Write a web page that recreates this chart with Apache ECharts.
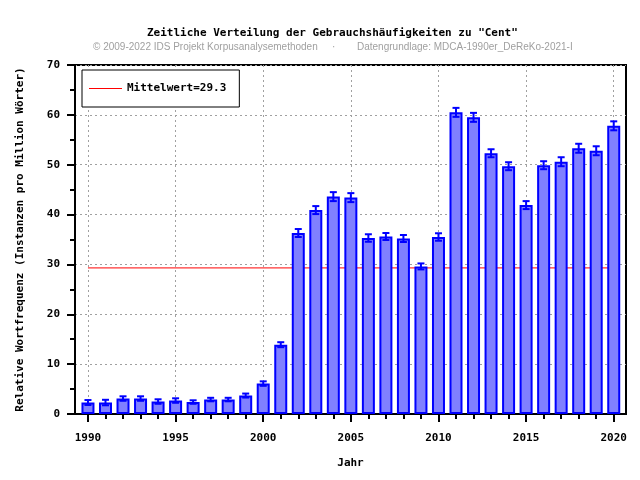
<!DOCTYPE html>
<html><head><meta charset="utf-8">
<script src="https://cdn.jsdelivr.net/npm/echarts@6/dist/echarts.min.js"></script>
<style>html,body{margin:0;padding:0;background:#fff}#c{width:640px;height:480px}</style>
</head><body><div id="c"></div>
<script>
const years = [1990,1991,1992,1993,1994,1995,1996,1997,1998,1999,2000,2001,2002,2003,2004,2005,2006,2007,2008,2009,2010,2011,2012,2013,2014,2015,2016,2017,2018,2019,2020];
const values = [2.3,2.3,3.1,3.1,2.5,2.7,2.4,2.9,2.9,3.7,6.1,13.9,36.3,40.9,43.6,43.4,35.3,35.6,35.2,29.6,35.5,60.5,59.5,52.3,49.7,41.9,49.9,50.6,53.3,52.8,57.8];
const errors = [0.5,0.55,0.45,0.45,0.45,0.45,0.35,0.35,0.35,0.4,0.45,0.5,0.8,0.8,0.9,0.9,0.75,0.7,0.7,0.6,0.75,0.9,0.9,0.8,0.8,0.8,0.8,0.9,0.9,0.9,0.9];
const meanValue = 29.3;
const majorYearTicks = [1990,1995,2000,2005,2010,2015,2020];
const titleText = 'Zeitliche Verteilung der Gebrauchshäufigkeiten zu "Cent"';
const creditText = '© 2009-2022 IDS Projekt Korpusanalysemethoden';
const sourceText = 'Datengrundlage: MDCA-1990er_DeReKo-2021-I';
const yName = 'Relative Wortfrequenz (Instanzen pro Million Wörter)';
const xName = 'Jahr';
const legendName = 'Mittelwert=' + meanValue.toFixed(1);

const mono = 'DejaVu Sans Mono';
const chart = echarts.init(document.getElementById('c'));
const xMin = 1989.26, xMax = 2020.7;
const subStyle = {fontFamily: 'Liberation Sans', fontWeight: 'normal', fontSize: 10, color: '#a0a0a0'};

chart.setOption({
  animation: false,
  backgroundColor: '#fff',
  title: [
    {text: titleText, left: 147, top: 28, padding: 0,
     textStyle: {fontFamily: mono, fontWeight: 'bold', fontSize: 11, color: '#000'}},
    {text: creditText, left: 93, top: 42, padding: 0, textStyle: subStyle},
    {text: '·', left: 332, top: 42, padding: 0, textStyle: subStyle},
    {text: sourceText, left: 357, top: 42, padding: 0, textStyle: subStyle}
  ],
  legend: {
    left: 82, top: 70, padding: [13, 13, 13, 7],
    backgroundColor: '#fff', borderColor: '#000', borderWidth: 1, borderRadius: 0,
    itemWidth: 33, itemHeight: 12,
    data: [{name: legendName, icon: 'path://M0,0H33V1H0Z'}],
    textStyle: {fontFamily: mono, fontWeight: 'bold', fontSize: 11, color: '#000'}
  },
  grid: {left: 75, right: 14, top: 65, bottom: 66, show: true, borderColor: '#000', borderWidth: 2, backgroundColor: 'transparent'},
  xAxis: [
    {type: 'value', min: xMin, max: xMax, position: 'bottom',
     name: xName, nameLocation: 'middle', nameGap: 44,
     nameTextStyle: {fontFamily: mono, fontWeight: 'bold', fontSize: 11, color: '#000'},
     axisLine: {show: true, lineStyle: {color: '#000', width: 2}},
     axisTick: {show: true, customValues: majorYearTicks, length: 8, lineStyle: {color: '#000', width: 2}},
     axisLabel: {customValues: majorYearTicks, margin: 19, fontFamily: mono, fontWeight: 'bold', fontSize: 11, color: '#000', formatter: v => String(v)},
     splitLine: {show: true, lineStyle: {color: '#a0a0a0', width: 1, type: [2, 3]}}
    },
    {type: 'value', min: xMin, max: xMax, position: 'bottom',
     axisLine: {show: false},
     axisTick: {show: true, customValues: years, length: 5, lineStyle: {color: '#000', width: 2}},
     axisLabel: {show: false},
     splitLine: {show: false}
    }
  ],
  yAxis: {
    type: 'value', min: 0, max: 70, interval: 10,
    name: yName, nameLocation: 'middle', nameGap: 49,
    nameTextStyle: {fontFamily: mono, fontWeight: 'bold', fontSize: 11, color: '#000'},
    axisLine: {show: true, lineStyle: {color: '#000', width: 2}},
    axisTick: {show: true, length: 8, lineStyle: {color: '#000', width: 2}},
    minorTick: {show: true, splitNumber: 2, length: 5, lineStyle: {color: '#000', width: 2}},
    axisLabel: {margin: 15, fontFamily: mono, fontWeight: 'bold', fontSize: 11, color: '#000'},
    splitLine: {show: true, lineStyle: {color: '#a0a0a0', width: 1, type: [2, 3]}}
  },
  series: [
    {name: legendName, type: 'line', xAxisIndex: 0, z: 1, symbol: 'none',
     data: [[years[0], meanValue], [years[years.length - 1], meanValue]],
     lineStyle: {color: '#ff0000', width: 1}, itemStyle: {color: '#ff0000'}},
    {name: 'bars', type: 'bar', xAxisIndex: 0, z: 2, barWidth: 13,
     data: years.map((y, i) => [y, values[i]]),
     itemStyle: {color: '#8080ff', borderColor: '#0000ff', borderWidth: 2}},
    {name: 'err', type: 'custom', xAxisIndex: 0, z: 3,
     data: years.map((y, i) => [y, values[i], errors[i]]),
     encode: {x: 0, y: 1},
     renderItem: function (params, api) {
       const x = api.value(0), v = api.value(1), e = api.value(2);
       const t = api.coord([x, v + e]), b = api.coord([x, v - e]);
       const hw = 3.5, st = {stroke: '#0000ff', lineWidth: 2};
       return {type: 'group', children: [
         {type: 'line', shape: {x1: t[0], y1: t[1], x2: b[0], y2: b[1]}, style: st},
         {type: 'line', shape: {x1: t[0] - hw, y1: t[1], x2: t[0] + hw, y2: t[1]}, style: st},
         {type: 'line', shape: {x1: b[0] - hw, y1: b[1], x2: b[0] + hw, y2: b[1]}, style: st}
       ]};
     }}
  ]
});
</script></body></html>
